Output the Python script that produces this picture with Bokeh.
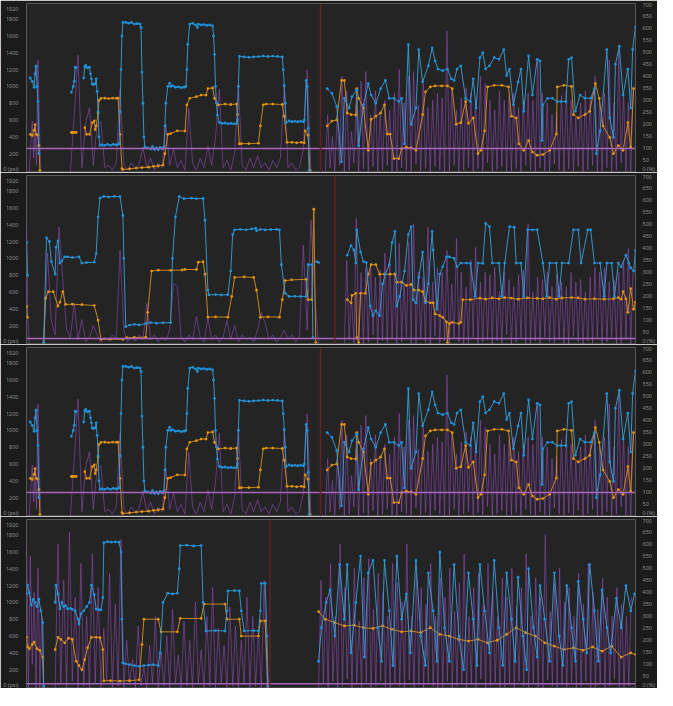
import math
from bokeh.plotting import figure
from bokeh.models import Range1d, LinearAxis, Span, FixedTicker
from bokeh.layouts import column
from bokeh.embed import file_html
from bokeh.resources import INLINE

NaN = float("nan")

# ---------------- Panel 1 (same recording is shown again as panel 3) ----------------
p1_blue_a_t = [26, 28, 30, 31, 32, 33, 34, 35]
p1_blue_a_v = [1100, 1060, 990, 1150, 1240, 1000, 820, 200]
p1_blue_b_t = [69, 71, 72, 73, 74]
p1_blue_b_v = [930, 1000, 1060, 1230, 1220]
p1_blue_c_t = [82, 83, 84, 86, 88, 89, 90, 91, 92, 94,
               95, 96, 97, 98, 99, 101, 104, 107, 110, 113,
               116, 118, 119, 120, 121, 122, 123, 126, 129, 132,
               135, 138, 141, 142, 143, 144, 145, 146, 149, 152,
               154, 156, 158, 160, 162, 164, 166, 167, 168, 170,
               172, 173, 175, 178, 181, 184, 187, 189, 190, 191,
               193, 196, 199, 201, 202, 205, 208, 211, 214, 217,
               218, 219, 220, 221, 222, 224, 227, 230, 233, 236,
               239, 242, 243, 244, 245, 250, 255, 260, 265, 270,
               275, 280, 285, 290, 291, 292, 293, 294, 297, 300,
               303, 306, 309, 312, 313, 315, 316, 317, 318]
p1_blue_c_v = [1100, 1230, 1250, 1220, 1230, 1150, 1090, 1030, 1020, 1030,
               1090, 940, 700, 400, 300, 305, 300, 310, 300, 310,
               305, 310, 320, 700, 1200, 1600, 1760, 1760, 1750, 1760,
               1740, 1745, 1740, 1700, 1170, 800, 400, 280, 270, 255,
               285, 250, 270, 250, 275, 260, 280, 530, 800, 1000,
               1040, 1000, 1010, 990, 995, 985, 990, 1000, 1200, 1500,
               1740, 1750, 1730, 1700, 1740, 1730, 1735, 1725, 1730, 1720,
               1600, 1380, 1000, 800, 660, 570, 560, 565, 555, 560,
               555, 560, 600, 1000, 1357, 1350, 1345, 1350, 1355, 1360,
               1355, 1360, 1355, 1350, 1200, 1010, 800, 570, 590, 580,
               585, 580, 585, 580, 600, 1070, 1000, 500, 0]
p1_blue_d_t = [337, 342, 347, 352, 355, 360, 363, 368, 370, 375,
               380, 383, 388, 393, 398, 402, 407, 412, 415, 418,
               422, 425, 430, 433, 437, 443, 447, 450, 453, 458,
               463, 467, 470, 473, 477, 482, 487, 490, 493, 497,
               500, 503, 507, 512, 517, 522, 525, 528, 532, 537,
               540, 543, 548, 552, 557, 560, 562, 563, 568, 573,
               578, 582, 587, 590, 593, 597, 602, 607, 613, 617,
               619, 623, 630, 633, 637, 639, 643, 647, 652, 655,
               657, 660]
p1_blue_d_v = [974, 916, 762, 104, 858, 742, 878, 955, 297, 781,
               1032, 897, 800, 974, 1071, 858, 858, 820, 858, 317,
               1496, 549, 742, 1438, 1052, 1245, 1458, 1303, 1206, 1187,
               1206, 1090, 1071, 1206, 1245, 858, 820, 1090, 742, 1342,
               1400, 1206, 1245, 1342, 1322, 1438, 1129, 1206, 781, 1052,
               1206, 704, 1361, 897, 1322, 1303, 356, 781, 858, 858,
               820, 820, 820, 1322, 1342, 704, 897, 860, 858, 974,
               201, 472, 1438, 626, 394, 1264, 1477, 897, 1206, 742,
               1438, 1709]

p1_orange_a_t = [26, 28, 30, 31, 32, 34, 35, 36]
p1_orange_a_v = [430, 418, 480, 545, 430, 420, 300, 0]
p1_orange_b_t = [69, 70, 72, 74]
p1_orange_b_v = [452, 452, 452, 452]
p1_orange_c_t = [83, 85, 88, 91, 93, 94, 95, 97, 98, 100,
                 104, 108, 112, 116, 118, 120, 122, 123, 130, 137,
                 143, 150, 155, 160, 165, 167, 170, 173, 180, 188,
                 190, 193, 200, 205, 210, 212, 217, 219, 222, 223,
                 230, 236, 242, 243, 245, 247, 255, 265, 267, 270,
                 273, 280, 290, 292, 295, 300, 305, 310, 313, 314,
                 317, 319]
p1_orange_c_v = [510, 430, 430, 568, 590, 487, 530, 684, 835, 858,
                 860, 855, 860, 858, 860, 430, 23, 12, 20, 30,
                 35, 40, 50, 54, 65, 200, 430, 440, 472, 470,
                 780, 858, 878, 897, 897, 974, 982, 858, 781, 781,
                 790, 785, 790, 665, 317, 320, 320, 325, 530, 781,
                 790, 790, 785, 646, 336, 336, 330, 336, 330, 472,
                 420, 0]
p1_orange_d_t = [337, 342, 347, 352, 355, 358, 362, 367, 368, 370,
                 375, 380, 383, 388, 393, 397, 400, 403, 407, 412,
                 415, 420, 425, 430, 437, 440, 445, 450, 457, 463,
                 468, 472, 477, 482, 485, 490, 495, 498, 502, 505,
                 512, 520, 527, 530, 535, 538, 543, 548, 552, 557,
                 563, 570, 577, 578, 585, 593, 595, 600, 607, 612,
                 618, 622, 626, 633, 637, 642, 647, 652, 655, 658]
p1_orange_d_v = [530, 588, 600, 1071, 1071, 684, 665, 660, 974, 858,
                 742, 240, 607, 646, 684, 781, 433, 433, 143, 143,
                 259, 278, 270, 240, 665, 936, 994, 1006, 1006, 1006,
                 974, 549, 568, 820, 560, 626, 201, 240, 472, 994,
                 1013, 1013, 994, 646, 626, 317, 240, 356, 220, 182,
                 190, 240, 433, 994, 1013, 1000, 665, 626, 665, 704,
                 1032, 858, 530, 394, 201, 297, 240, 568, 278, 974]

p1_pct_a = [0, 120, 214, 60, 180, 30, 468, 200, 0]          # from t=25, every 1.5
p1_pct_b = [0, 238, 488, 20, 205, 270, 30, 200, 210, 20,    # from t=68, every 4
            30, 10, 40, 347, 30, 10, 40, 15, 35, 105,
            20, 60, 10, 40, 20, 200, 30, 97, 20, 50,
            10, 266, 40, 10, 60, 20, 110, 30, 145, 347,
            20, 50, 10, 80, 360, 30, 10, 60, 20, 70,
            20, 40, 10, 50, 20, 60, 360, 20, 40, 10,
            20, 100, 427, 0]
p1_pct_c_low = [0, 20, 5, 30, 0, 10, 40, 0, 15, 5,          # from t=335, every 5
                25, 0, 10, 30, 5, 0, 20, 10, 0, 35,
                5, 15, 0, 25, 10, 0, 5, 30, 0, 10,
                20, 0, 15, 5, 40, 0, 10, 25, 0, 5,
                15, 0, 30, 10, 0, 20, 5, 0, 35, 10,
                0, 15, 5, 25, 0, 10, 30, 0, 5, 20,
                0, 10, 40, 5, 0]
p1_pct_c_high = [240, 150, 240, 400, 340, 170, 280, 380, 420, 240,
                 340, 250, 300, 260, 330, 428, 290, 400, 420, 280,
                 370, 270, 300, 330, 310, 589, 350, 260, 310, 350,
                 330, 300, 400, 370, 300, 260, 340, 300, 320, 330,
                 270, 300, 330, 300, 468, 330, 290, 240, 250, 320,
                 340, 300, 230, 290, 340, 300, 400, 300, 330, 468,
                 290, 508, 330, 290, 360]

# ---------------- Panel 2 ----------------
p2_blue_a_t = [22, 23]
p2_blue_a_v = [1190, 800]
p2_blue_b_t = [40, 43, 46, 48, 52, 53, 55, 57, 59, 62,
               65, 70, 77, 80, 85, 93, 95, 97, 99, 103,
               108, 114, 120, 123, 124, 126, 130, 135, 140, 147,
               152, 158, 165, 173, 175, 178, 182, 187, 195, 200,
               207, 209, 212, 213, 220, 226, 233, 236, 238, 240,
               246, 252, 258, 262, 263, 267, 272, 278, 284, 287,
               289, 293, 297, 303, 309, 315, 317, 321, 322]
p2_blue_b_v = [0, 1245, 1200, 962, 812, 1132, 1208, 944, 970, 1019,
               1019, 1010, 1019, 944, 950, 955, 1057, 1491, 1717, 1736,
               1730, 1736, 1733, 1510, 1000, 189, 208, 215, 210, 226,
               238, 230, 235, 238, 1000, 1491, 1736, 1709, 1715, 1710,
               1712, 1453, 623, 566, 570, 565, 568, 849, 1283, 1340,
               1345, 1340, 1350, 1358, 1330, 1345, 1340, 1342, 1345, 1340,
               925, 585, 548, 550, 548, 548, 925, 925, 57]
p2_blue_c_t = [326, 328]
p2_blue_c_v = [962, 950]
p2_blue_d_t = [358, 362, 365, 367, 368, 372, 375, 378, 382, 385,
               388, 392, 395, 398, 402, 405, 408, 410, 413, 418,
               422, 425, 427, 430, 433, 437, 440, 443, 447, 448,
               452, 455, 458, 462, 465, 470, 473, 477, 483, 487,
               492, 495, 500, 503, 507, 510, 517, 520, 523, 528,
               533, 535, 540, 543, 547, 552, 557, 563, 567, 570,
               577, 580, 583, 590, 595, 600, 603, 610, 613, 617,
               623, 627, 630, 635, 638, 642, 645, 650, 653, 655,
               658, 660]
p2_blue_d_v = [1038, 1151, 1100, 944, 1340, 1075, 962, 950, 434, 321,
               378, 321, 698, 812, 925, 1189, 1321, 434, 548, 849,
               1283, 1378, 509, 470, 774, 1075, 472, 700, 1321, 1100,
               396, 812, 900, 1019, 1019, 1000, 900, 944, 944, 940,
               548, 944, 940, 1415, 1378, 944, 944, 548, 944, 1378,
               1370, 944, 944, 548, 1340, 1340, 1340, 944, 548, 944,
               944, 548, 944, 944, 1340, 1340, 944, 1340, 1340, 944,
               944, 548, 944, 944, 548, 944, 900, 1038, 944, 887,
               850, 1094]
p2_orange_a_t = [22, 23]
p2_orange_a_v = [430, 300]
p2_orange_b_t = [40, 42, 45, 50, 55, 57, 60, 63, 70, 80,
                 93, 97, 100, 110, 123, 127, 135, 147, 149, 153,
                 160, 173, 185, 188, 200, 202, 207, 209, 212, 220,
                 233, 237, 240, 250, 260, 263, 267, 275, 287, 290,
                 293, 300, 315, 317, 321, 323, 325]
p2_orange_b_v = [0, 528, 604, 604, 434, 480, 604, 453, 455, 450,
                 440, 265, 38, 40, 38, 57, 60, 64, 359, 849,
                 860, 858, 862, 868, 868, 955, 960, 812, 302, 305,
                 302, 548, 774, 780, 774, 623, 302, 305, 302, 509,
                 736, 745, 751, 509, 509, 1585, 0]
p2_orange_d_t = [358, 362, 363, 367, 368, 370, 372, 377, 380, 383,
                 388, 392, 397, 403, 408, 410, 415, 420, 425, 428,
                 433, 437, 440, 445, 448, 450, 455, 458, 462, 463,
                 465, 468, 475, 477, 479, 487, 497, 503, 510, 517,
                 523, 530, 537, 547, 557, 563, 570, 577, 583, 593,
                 600, 607, 617, 627, 637, 642, 645, 647, 650, 652,
                 655, 658, 660]
p2_orange_d_v = [509, 472, 560, 585, 57, 0, 585, 585, 812, 925,
                 925, 812, 812, 812, 812, 717, 717, 679, 690, 623,
                 623, 604, 491, 472, 472, 340, 321, 300, 245, 0,
                 226, 240, 226, 240, 509, 509, 528, 515, 530, 520,
                 535, 528, 515, 530, 525, 520, 535, 515, 530, 535,
                 530, 515, 520, 515, 520, 535, 515, 604, 520, 359,
                 642, 396, 480]
p2_pct_a = [488, 100, 0]                                      # from t=22, every 1.5
p2_pct_b = [0, 380, 100, 40, 488, 267, 60, 30, 171, 20,       # from t=40, every 4
            104, 10, 30, 80, 40, 10, 30, 15, 40, 20,
            392, 60, 10, 30, 15, 40, 20, 171, 20, 40,
            10, 30, 15, 60, 255, 240, 30, 10, 40, 20,
            116, 30, 10, 110, 20, 40, 10, 30, 100, 20,
            80, 10, 40, 20, 30, 10, 60, 133, 90, 20,
            40, 10, 30, 60, 20, 40, 10, 30, 413, 60,
            517, 200, 0]
p2_pct_c_low = [0, 20, 5, 30, 0, 10, 40, 0, 15, 5,           # from t=355, every 5
                25, 0, 10, 30, 5, 0, 20, 10, 0, 35,
                5, 15, 0, 25, 10, 0, 5, 30, 0, 10,
                20, 0, 15, 5, 40, 0, 10, 25, 0, 5,
                15, 0, 30, 10, 0, 20, 5, 0, 35, 10,
                0, 15, 5, 25, 0, 10, 30, 0, 5, 20, 0]
p2_pct_c_high = [350, 200, 525, 300, 320, 330, 280, 310, 380, 350,
                 300, 420, 260, 425, 503, 300, 280, 488, 260, 320,
                 300, 392, 250, 441, 300, 240, 350, 404, 260, 300,
                 290, 320, 220, 300, 270, 240, 290, 310, 503, 220,
                 280, 270, 300, 240, 290, 260, 240, 300, 260, 270,
                 220, 280, 320, 300, 320, 260, 270, 300, 350, 400, 300]

# ---------------- Panel 4 ----------------
p4_blue_a_t = [22, 23, 25, 27, 29, 31, 33, 35, 37, 39, 40]
p4_blue_a_v = [1100, 1204, 1114, 967, 1035, 1000, 950, 1040, 900, 760, 0]
p4_blue_b_t = [52, 53, 55, 57, 59, 61, 63, 65, 68, 70,
               73, 76, 77, 79, 82, 85, 88, 90, 93, 95,
               98, 100, 102, 103, 107, 111, 115, 119, 121, 122,
               123, 126, 130, 135, 140, 145, 150, 155, 160, 162,
               165, 170, 175, 180, 182, 183, 190, 197, 205, 207,
               210, 220, 230, 232, 233, 240, 245, 247, 250, 260,
               265, 267, 268, 272, 274, 275]
p4_blue_b_v = [1000, 1204, 1100, 922, 1001, 950, 960, 922, 930, 917,
               900, 800, 742, 866, 900, 950, 1000, 1204, 1091, 920,
               915, 911, 1057, 1710, 1721, 1715, 1720, 1715, 1600, 800,
               280, 270, 260, 250, 240, 250, 255, 260, 250, 400,
               1000, 1110, 1100, 1110, 1400, 1675, 1680, 1670, 1675, 1000,
               660, 665, 660, 900, 1136, 1140, 1136, 900, 660, 665,
               660, 900, 1226, 1226, 600, 0]
p4_blue_d_t = [328, 331, 336, 340, 345, 350, 355, 358, 362, 367,
               372, 376, 380, 385, 390, 394, 397, 402, 406, 410,
               415, 420, 424, 430, 435, 440, 443, 448, 452, 455,
               460, 465, 470, 475, 480, 485, 490, 494, 497, 502,
               507, 512, 517, 521, 525, 530, 534, 537, 542, 546,
               548, 553, 557, 560, 565, 570, 575, 580, 584, 588,
               593, 597, 600, 605, 609, 612, 617, 621, 625, 630,
               634, 640, 645, 650, 655, 659]
p4_blue_d_v = [300, 700, 1000, 1150, 600, 1450, 800, 1450, 400, 1000,
               1550, 350, 1350, 1500, 700, 300, 1500, 900, 250, 1550,
               800, 1100, 400, 1500, 600, 250, 1350, 900, 300, 1600,
               700, 300, 1450, 600, 200, 1350, 800, 250, 1450, 900,
               400, 1500, 700, 250, 1350, 800, 300, 1300, 600, 200,
               1400, 700, 350, 1200, 800, 300, 1350, 600, 250, 1200,
               700, 300, 1250, 800, 400, 1450, 900, 300, 1150, 700,
               400, 1050, 700, 1200, 900, 1100]
p4_orange_a_t = [22, 23, 25, 28, 30, 33, 36, 39, 40]
p4_orange_a_v = [585, 473, 450, 500, 529, 450, 430, 350, 0]
p4_orange_b_t = [52, 55, 58, 62, 66, 70, 74, 77, 80, 83,
                 86, 90, 95, 99, 102, 103, 110, 120, 130, 140,
                 143, 145, 160, 163, 180, 183, 205, 208, 230, 232,
                 245, 247, 265, 267, 272, 275]
p4_orange_b_v = [440, 585, 560, 520, 574, 560, 300, 248, 200, 320,
                 461, 585, 585, 580, 439, 68, 70, 65, 70, 80,
                 500, 800, 800, 650, 650, 810, 810, 980, 980, 800,
                 800, 600, 600, 780, 780, 0]
p4_orange_d_t = [328, 335, 345, 355, 365, 375, 385, 395, 405, 415,
                 425, 435, 445, 455, 465, 475, 485, 495, 505, 515,
                 525, 535, 545, 555, 565, 575, 585, 595, 605, 615,
                 625, 635, 645, 655, 660]
p4_orange_d_v = [890, 800, 760, 720, 730, 700, 690, 720, 680, 650,
                 660, 640, 700, 620, 600, 560, 540, 560, 520, 550,
                 620, 700, 640, 600, 520, 480, 440, 460, 430, 470,
                 420, 480, 350, 400, 380]
p4_pct_a = [600, 0, 550, 100, 400, 0, 500, 0, 300, 0]        # from t=22, every 2
p4_pct_b = [0, 600, 20, 450, 0, 650, 30, 380, 0, 520,         # from t=52, every 3
            10, 300, 0, 560, 20, 420, 0, 250, 30, 480,
            0, 350, 10, 620, 0, 200, 20, 120, 0, 260,
            10, 90, 0, 180, 20, 300, 0, 150, 10, 220,
            0, 330, 20, 140, 0, 280, 10, 200, 0, 360,
            20, 160, 0, 300, 10, 420, 0, 250, 20, 180,
            0, 340, 10, 260, 0, 200, 20, 380, 0, 300,
            10, 240, 0, 450, 0]
p4_pct_c_low = [0, 20, 5, 30, 0, 10, 40, 0, 15, 5,            # from t=328, every 5
                25, 0, 10, 30, 5, 0, 20, 10, 0, 35,
                5, 15, 0, 25, 10, 0, 5, 30, 0, 10,
                20, 0, 15, 5, 40, 0, 10, 25, 0, 5,
                15, 0, 30, 10, 0, 20, 5, 0, 35, 10,
                0, 15, 5, 25, 0, 10, 30, 0, 5, 20,
                0, 10, 40, 5, 0, 10]
p4_pct_c_high = [450, 380, 520, 300, 600, 420, 350, 500, 280, 460,
                 540, 330, 480, 400, 300, 520, 440, 360, 600, 300,
                 480, 420, 350, 520, 300, 460, 380, 500, 320, 440,
                 560, 300, 420, 480, 350, 520, 400, 300, 460, 380,
                 500, 340, 420, 560, 300, 460, 380, 640, 320, 440,
                 500, 360, 420, 300, 480, 350, 520, 400, 330, 460,
                 380, 300, 420, 350, 300, 380]

# ---------------- per panel settings ----------------
cursor_times = [330, 345, 330, 277]
limit_pct = [100, 25, 100, 20]
left_ticks = [0, 200, 400, 600, 800, 1000, 1200, 1400, 1600, 1800, 1920]
right_ticks = [0, 50, 100, 150, 200, 250, 300, 350, 400, 450, 500, 550, 600, 650, 700]

BLUE = "#1f92dc"
BLUE_LINE = "#3b9fd8"
ORANGE = "#e3920f"
ORANGE_LINE = "#d7901e"
PURPLE = "#8f4bb5"
BG = "#242424"
BORDER = "#1b1b1b"
TXT = "#8d8d8d"


def regular(start, step, vals):
    return [start + i * step for i in range(len(vals))]


def zigzag(start, step, lows, highs):
    xs, ys = [], []
    for i in range(len(highs)):
        xs += [start + i * step, start + i * step + step / 2]
        ys += [lows[i], highs[i]]
    return xs, ys


def join(*segs):
    xs, ys = [], []
    for t, v in segs:
        if xs:
            xs.append(t[0])
            ys.append(NaN)
        xs += list(t)
        ys += list(v)
    return xs, ys


def make_panel(blue, orange, pct_segs, cursor, limit, h):
    p = figure(width=657, height=h, output_backend="svg", toolbar_location=None,
               x_range=Range1d(22, 660), y_range=Range1d(-23, 1985),
               min_border_left=0, min_border_right=0, min_border_top=3, min_border_bottom=0)
    p.extra_y_ranges = {"pct": Range1d(0, 703)}
    p.background_fill_color = BG
    p.border_fill_color = BORDER
    p.outline_line_color = None
    p.grid.visible = False

    ya = p.yaxis[0]
    ya.ticker = FixedTicker(ticks=left_ticks)
    ya.major_label_overrides = {0: "0 (psi)"}
    ya.major_label_text_font_size = "5.5px"
    ya.major_label_text_color = TXT
    ya.major_label_text_font = "Noto Sans"
    ya.major_tick_line_color = None
    ya.minor_tick_line_color = None
    ya.axis_line_color = None
    ya.major_label_standoff = 2

    ra = LinearAxis(y_range_name="pct", ticker=FixedTicker(ticks=right_ticks))
    ra.major_label_overrides = {0: "0 (%)"}
    ra.major_label_text_font_size = "5.5px"
    ra.major_label_text_color = TXT
    ra.major_label_text_font = "Noto Sans"
    ra.major_tick_line_color = None
    ra.minor_tick_line_color = None
    ra.axis_line_color = None
    ra.major_label_standoff = 1
    p.add_layout(ra, "right")

    xa = p.xaxis[0]
    xa.ticker = FixedTicker(ticks=[])
    xa.major_tick_line_color = None
    xa.minor_tick_line_color = None
    xa.axis_line_color = "#6d6d6d"
    xa.axis_line_width = 2

    for xs, ys in pct_segs:
        p.line(xs, ys, y_range_name="pct", color=PURPLE, line_width=1, line_alpha=0.6)

    p.add_layout(Span(location=limit, dimension="width", y_range_name="pct",
                      line_color="#a764bd", line_width=1.6))
    p.add_layout(Span(location=cursor, dimension="height",
                      line_color="#642222", line_width=1.5))

    bx, by = blue
    ox, oy = orange
    p.line(ox, oy, color=ORANGE_LINE, line_width=1, line_alpha=0.9)
    p.scatter(ox, oy, size=2.8, color=ORANGE, line_color=None)
    p.line(bx, by, color=BLUE_LINE, line_width=1, line_alpha=0.9)
    p.scatter(bx, by, size=2.8, color=BLUE, line_color=None)
    return p


def panel1_like(cursor, limit, h):
    blue = join((p1_blue_a_t, p1_blue_a_v), (p1_blue_b_t, p1_blue_b_v),
                (p1_blue_c_t, p1_blue_c_v), (p1_blue_d_t, p1_blue_d_v))
    orange = join((p1_orange_a_t, p1_orange_a_v), (p1_orange_b_t, p1_orange_b_v),
                  (p1_orange_c_t, p1_orange_c_v), (p1_orange_d_t, p1_orange_d_v))
    pct = [(regular(25, 1.5, p1_pct_a), p1_pct_a),
           (regular(68, 4, p1_pct_b), p1_pct_b),
           zigzag(335, 5, p1_pct_c_low, p1_pct_c_high)]
    return make_panel(blue, orange, pct, cursor, limit, h)


H = 172
f1 = panel1_like(cursor_times[0], limit_pct[0], H)

blue2 = join((p2_blue_a_t, p2_blue_a_v), (p2_blue_b_t, p2_blue_b_v),
             (p2_blue_c_t, p2_blue_c_v), (p2_blue_d_t, p2_blue_d_v))
orange2 = join((p2_orange_a_t, p2_orange_a_v), (p2_orange_b_t, p2_orange_b_v),
               (p2_orange_d_t, p2_orange_d_v))
pct2 = [(regular(22, 1.5, p2_pct_a), p2_pct_a),
        (regular(40, 4, p2_pct_b), p2_pct_b),
        zigzag(355, 5, p2_pct_c_low, p2_pct_c_high)]
f2 = make_panel(blue2, orange2, pct2, cursor_times[1], limit_pct[1], H)

f3 = panel1_like(cursor_times[2], limit_pct[2], H)

blue4 = join((p4_blue_a_t, p4_blue_a_v), (p4_blue_b_t, p4_blue_b_v), (p4_blue_d_t, p4_blue_d_v))
orange4 = join((p4_orange_a_t, p4_orange_a_v), (p4_orange_b_t, p4_orange_b_v),
               (p4_orange_d_t, p4_orange_d_v))
pct4 = [(regular(22, 2, p4_pct_a), p4_pct_a),
        (regular(52, 3, p4_pct_b), p4_pct_b),
        zigzag(328, 5, p4_pct_c_low, p4_pct_c_high)]
f4 = make_panel(blue4, orange4, pct4, cursor_times[3], limit_pct[3], H)

layout = column(f1, f2, f3, f4, spacing=0)
open("out.html", "w").write(file_html(layout, INLINE))
